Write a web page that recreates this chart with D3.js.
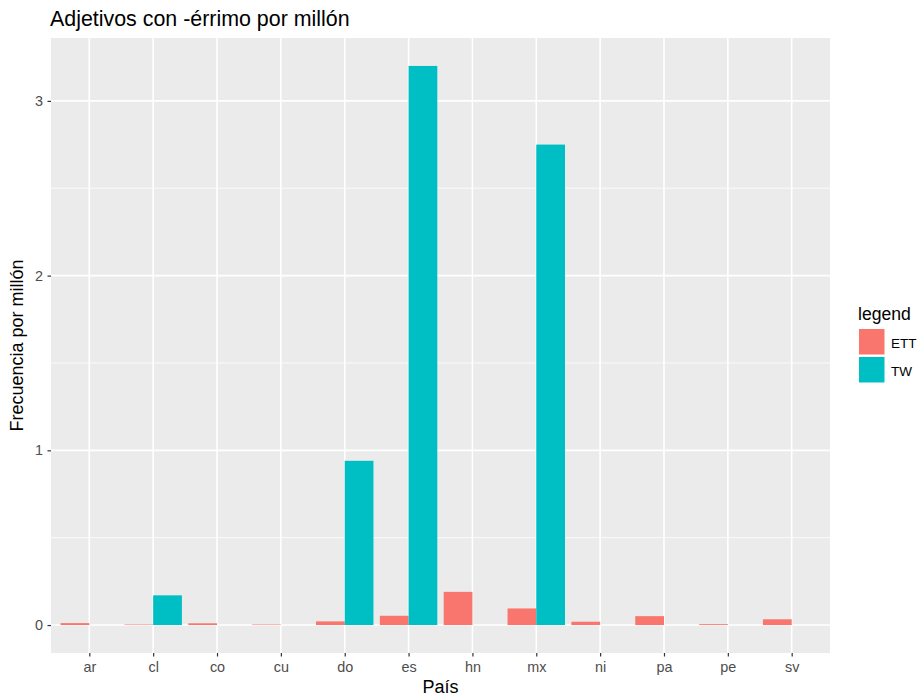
<!DOCTYPE html>
<html><head><meta charset="utf-8">
<script src="https://cdn.jsdelivr.net/npm/d3@7"></script>
<style>body{margin:0;background:#fff;}text{font-family:"Liberation Sans",Arial,Helvetica,sans-serif;}</style>
</head><body><svg id="c" width="918" height="697"></svg>
<script>
const countries = ["ar","cl","co","cu","do","es","hn","mx","ni","pa","pe","sv"];
const series = ["ETT","TW"];
const ettValues = [0.011,0.003,0.010,0.003,0.021,0.053,0.19,0.095,0.019,0.051,0.005,0.033];
const twValues  = [0,0.17,0,0,0.94,3.2,0,2.75,0,0,0,0];
const yTicks = [0,1,2,3];
const yMinor = [0.5,1.5,2.5];
const colors = {ETT:"#F8766D", TW:"#00BFC4"};

const svg = d3.select("#c");
const L=51, R=830, T=38, B=653;
const n = countries.length;
const x = d3.scaleLinear().domain([0.4, n+0.6]).range([L,R]);
const maxV = d3.max(twValues.concat(ettValues));
const y = d3.scaleLinear().domain([-0.05*maxV, 1.05*maxV]).range([B,T]);

svg.append("rect").attr("x",L).attr("y",T).attr("width",R-L).attr("height",B-T).attr("fill","#EBEBEB");
const g = svg.append("g");
yMinor.forEach(v=>g.append("line").attr("x1",L).attr("x2",R).attr("y1",y(v)).attr("y2",y(v)).attr("stroke","#fff").attr("stroke-width",0.8));
yTicks.forEach(v=>g.append("line").attr("x1",L).attr("x2",R).attr("y1",y(v)).attr("y2",y(v)).attr("stroke","#fff").attr("stroke-width",1.6));
countries.forEach((c,i)=>g.append("line").attr("x1",x(i+1)).attr("x2",x(i+1)).attr("y1",T).attr("y2",B).attr("stroke","#fff").attr("stroke-width",1.6));

const bw = 0.9/2;
const data = [];
countries.forEach((c,i)=>{
  data.push({c,i,s:"ETT",v:ettValues[i],off:-bw});
  data.push({c,i,s:"TW",v:twValues[i],off:0});
});
svg.append("g").selectAll("rect").data(data.filter(d=>d.v>0)).join("rect")
  .attr("x",d=>x(d.i+1+d.off)).attr("width",d=>x(d.i+1+d.off+bw)-x(d.i+1+d.off))
  .attr("y",d=>y(d.v)).attr("height",d=>y(0)-y(d.v)).attr("fill",d=>colors[d.s]);

// axes
const yAxis = d3.axisLeft(y).tickValues(yTicks).tickSize(3.5).tickPadding(4.5).tickFormat(d3.format("d"));
const ya = svg.append("g").attr("transform",`translate(${L},0)`).call(yAxis);
const xAxis = d3.axisBottom(d3.scalePoint().domain(countries).range([x(1),x(n)])).tickSize(3.5).tickPadding(5.3);
const xa = svg.append("g").attr("transform",`translate(0,${B})`).call(xAxis);
[ya,xa].forEach(a=>{a.select(".domain").remove();a.selectAll("line").attr("stroke","#333").attr("stroke-width",1.2);
  a.selectAll("text").attr("fill","#4D4D4D").style("font-size","14.4px");});

svg.append("text").attr("x",50).attr("y",26).text("Adjetivos con -érrimo por millón").style("font-size","21.4px").attr("fill","#000");
svg.append("text").attr("x",(L+R)/2).attr("y",693).attr("text-anchor","middle").text("País").style("font-size","18px").attr("fill","#000");
svg.append("text").attr("transform",`translate(23,${(T+B)/2}) rotate(-90)`).attr("text-anchor","middle").text("Frecuencia por millón").style("font-size","18px").attr("fill","#000");

// legend
const lg = svg.append("g");
lg.append("text").attr("x",858).attr("y",320).text("legend").style("font-size","17.6px").attr("fill","#000");
series.forEach((s,k)=>{
  lg.append("rect").attr("x",859).attr("y",329+k*28).attr("width",25.5).attr("height",25.5).attr("fill",colors[s]);
  lg.append("text").attr("x",891).attr("y",347.5+k*28).text(s).style("font-size","13.5px").attr("fill","#000");
});
</script></body></html>
